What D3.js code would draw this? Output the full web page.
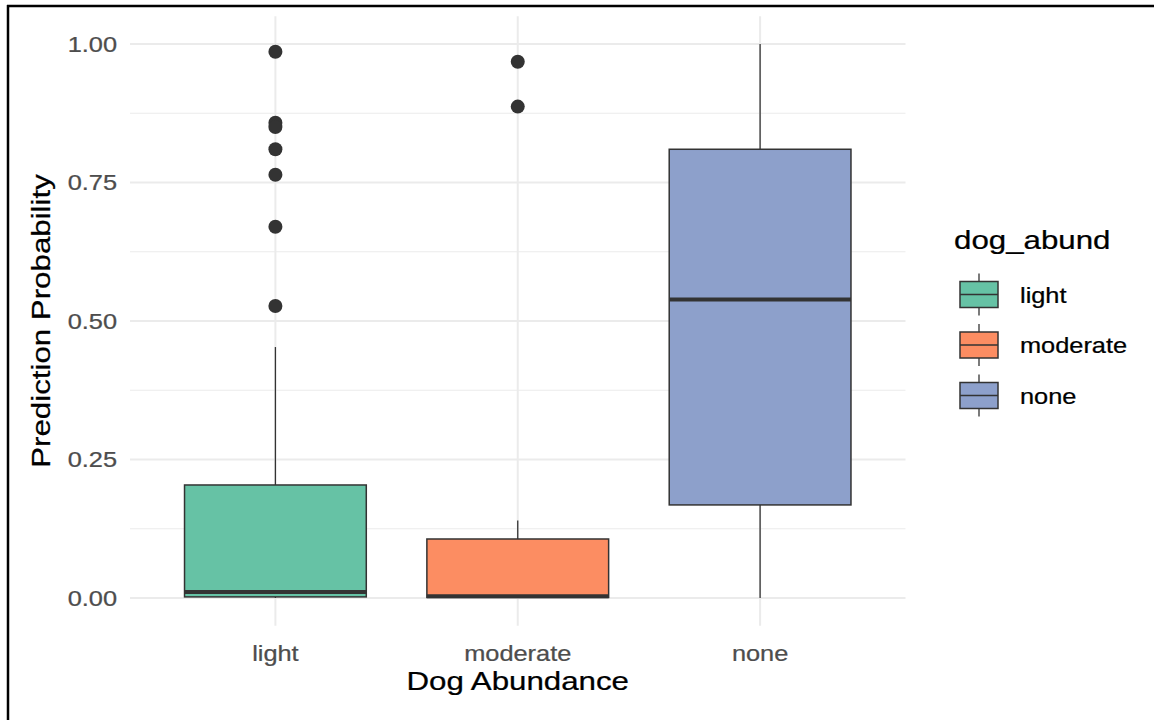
<!DOCTYPE html>
<html>
<head>
<meta charset="utf-8">
<script src="https://cdn.jsdelivr.net/npm/d3@7"></script>
<style>
  html, body { margin: 0; padding: 0; background: #fff; }
  svg { display: block; }
  text { font-family: "Liberation Sans", Arial, sans-serif; }
</style>
</head>
<body>
<svg id="chart" width="1154" height="720"></svg>
<script>
// Categories and colours (Set2 palette)
const categories = ["light", "moderate", "none"];
const fills = ["#66C2A5", "#FC8D62", "#8DA0CB"];

// Box statistics per category
const whiskerLow  = [0.000, 0.000, 0.000];
const q1          = [0.002, 0.001, 0.168];
const medians     = [0.011, 0.003, 0.539];
const q3          = [0.204, 0.1065, 0.810];
const whiskerHigh = [0.453, 0.140, 1.000];

// Outlying predictions
const outliersLight    = [0.986, 0.858, 0.850, 0.810, 0.764, 0.670, 0.527];
const outliersModerate = [0.968, 0.887];
const outliersNone     = [];

const yTicks = [0, 0.25, 0.5, 0.75, 1.0];
const yMinor = [0.125, 0.375, 0.625, 0.875];

const boxes = categories.map((c, i) => ({
  cat: c, fill: fills[i],
  lo: whiskerLow[i], q1: q1[i], med: medians[i], q3: q3[i], hi: whiskerHigh[i]
}));
const outliers = [
  ...outliersLight.map(v => ({cat: "light", v})),
  ...outliersModerate.map(v => ({cat: "moderate", v})),
  ...outliersNone.map(v => ({cat: "none", v}))
];

const svg = d3.select("#chart");
const panel = {left: 130, right: 905.5, top: 16.3, bottom: 625.7};

const x = d3.scalePoint().domain(categories).range([panel.left, panel.right]).padding(0.6);
const y = d3.scaleLinear().domain([-0.05, 1.05]).range([panel.bottom, panel.top]);
const boxW = x.step() * 0.75;

const ink = "#333333";
const stretch = 1.18;

function label(g, txt, px, py, size, color, anchor, rotate) {
  return g.append("text")
    .attr("transform", `translate(${px},${py})` + (rotate ? ` rotate(${rotate})` : "") + ` scale(${stretch},1)`)
    .attr("text-anchor", anchor)
    .attr("font-size", size)
    .attr("fill", color)
    .attr("stroke", color)
    .attr("stroke-width", 0.25)
    .text(txt);
}

// Grid
const grid = svg.append("g");
grid.selectAll(".minor").data(yMinor).join("line")
  .attr("x1", panel.left).attr("x2", panel.right)
  .attr("y1", d => y(d)).attr("y2", d => y(d))
  .attr("stroke", "#EBEBEB").attr("stroke-width", 1);
grid.selectAll(".major").data(yTicks).join("line")
  .attr("x1", panel.left).attr("x2", panel.right)
  .attr("y1", d => y(d)).attr("y2", d => y(d))
  .attr("stroke", "#EBEBEB").attr("stroke-width", 2);
grid.selectAll(".vmajor").data(categories).join("line")
  .attr("x1", d => x(d)).attr("x2", d => x(d))
  .attr("y1", panel.top).attr("y2", panel.bottom)
  .attr("stroke", "#EBEBEB").attr("stroke-width", 2);

// Whiskers
const g = svg.append("g");
g.selectAll(".wl").data(boxes).join("line")
  .attr("x1", d => x(d.cat)).attr("x2", d => x(d.cat))
  .attr("y1", d => y(d.q3)).attr("y2", d => y(d.hi))
  .attr("stroke", ink).attr("stroke-width", 1.3);
g.selectAll(".wl2").data(boxes).join("line")
  .attr("x1", d => x(d.cat)).attr("x2", d => x(d.cat))
  .attr("y1", d => y(d.q1)).attr("y2", d => y(d.lo))
  .attr("stroke", ink).attr("stroke-width", 1.3);

// Boxes
g.selectAll(".box").data(boxes).join("rect")
  .attr("x", d => x(d.cat) - boxW / 2).attr("width", boxW)
  .attr("y", d => y(d.q3)).attr("height", d => y(d.q1) - y(d.q3))
  .attr("fill", d => d.fill).attr("stroke", ink).attr("stroke-width", 1.5);

// Medians
g.selectAll(".med").data(boxes).join("line")
  .attr("x1", d => x(d.cat) - boxW / 2).attr("x2", d => x(d.cat) + boxW / 2)
  .attr("y1", d => y(d.med)).attr("y2", d => y(d.med))
  .attr("stroke", ink).attr("stroke-width", 4);

// Outliers
g.selectAll(".out").data(outliers).join("circle")
  .attr("cx", d => x(d.cat)).attr("cy", d => y(d.v)).attr("r", 7)
  .attr("fill", ink);

// Axis labels
const axes = svg.append("g");
yTicks.forEach(t => label(axes, d3.format(".2f")(t), 117, y(t) + 7.5, 21.5, "#4D4D4D", "end"));
categories.forEach(c => label(axes, c, x(c), 661, 21.5, "#4D4D4D", "middle"));
label(axes, "Dog Abundance", (panel.left + panel.right) / 2, 690, 26.5, "#000", "middle");
label(axes, "Prediction Probability", 50, y(0.5), 26.5, "#000", "middle", -90);

// Legend
const leg = svg.append("g");
label(leg, "dog_abund", 954, 249, 26.5, "#000", "start");
const keyY = d3.scalePoint().domain(categories).range([294.5, 395.5]);
const keyL = 960, keyW = 38;
categories.forEach((c, i) => {
  const cy = keyY(c);
  leg.append("line").attr("x1", keyL + keyW / 2).attr("x2", keyL + keyW / 2)
    .attr("y1", cy - 21).attr("y2", cy + 21).attr("stroke", ink).attr("stroke-width", 1.3);
  leg.append("rect").attr("x", keyL).attr("y", cy - 13).attr("width", keyW).attr("height", 26)
    .attr("fill", fills[i]).attr("stroke", ink).attr("stroke-width", 1.5);
  leg.append("line").attr("x1", keyL).attr("x2", keyL + keyW)
    .attr("y1", cy).attr("y2", cy).attr("stroke", ink).attr("stroke-width", 1.5);
  label(leg, c, 1020, cy + 8, 21.5, "#000", "start");
});

// Frame lines along top and left edges
svg.append("line").attr("x1", 7).attr("x2", 1154).attr("y1", 6).attr("y2", 6)
  .attr("stroke", "#000").attr("stroke-width", 2.5);
svg.append("line").attr("x1", 8).attr("x2", 8).attr("y1", 5).attr("y2", 720)
  .attr("stroke", "#000").attr("stroke-width", 2.5);
</script>
</body>
</html>
